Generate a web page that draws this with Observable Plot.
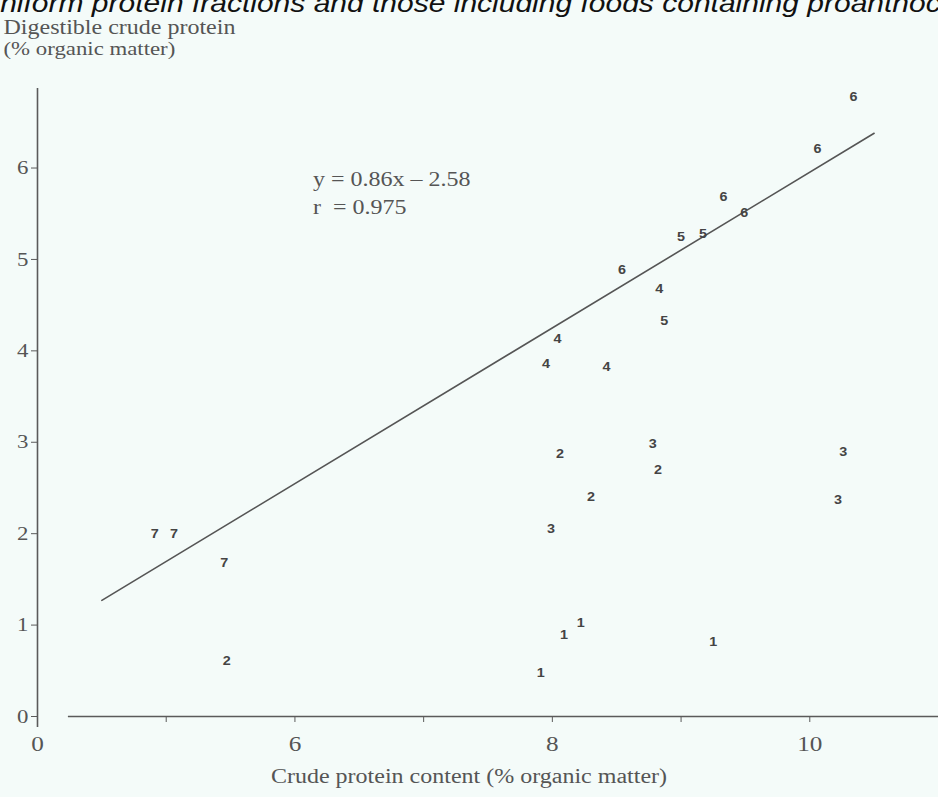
<!DOCTYPE html>
<html>
<head>
<meta charset="utf-8">
<script src="https://cdn.jsdelivr.net/npm/d3@7"></script>
<script src="https://cdn.jsdelivr.net/npm/@observablehq/plot@0.6"></script>
<style>
  html, body { margin: 0; padding: 0; background: #f4fbf9; overflow: hidden; }
  #chart svg { display: block; }
</style>
</head>
<body>
<div id="chart"></div>
<script>
// Data: x = crude protein content, y = digestible crude protein, label = group number
const groupLabels = ["7","7","7","2","4","4","4","5","2","3","2","2","3","1","1","1","1","3","3","6","6","6","6","5","5","6","4"];
const crudeProtein = [4.91,5.06,5.45,5.47,8.04,7.95,8.42,8.87,8.06,8.78,8.82,8.30,7.99,8.09,8.22,7.91,9.25,10.26,10.22,10.34,10.06,9.33,9.49,9.00,9.17,8.54,8.83];
const digestibleProtein = [1.99,1.99,1.68,0.61,4.13,3.85,3.82,4.32,2.87,2.98,2.69,2.40,2.05,0.89,1.02,0.47,0.81,2.89,2.37,6.77,6.21,5.68,5.51,5.24,5.28,4.88,4.68];

// Regression line end points as drawn
const lineX = [4.5, 10.5];
const lineY = [1.27, 6.38];

const yTicks = [0, 1, 2, 3, 4, 5, 6];
const xTickMarks = [5, 6, 7, 8, 9, 10, 11];
const xTickLabels = [4, 6, 8, 10];
const xTickText = ["0", "6", "8", "10"];

const titleText = "uniform protein fractions and those including foods containing proanthocyanidins";
const yTitle1 = "Digestible crude protein";
const yTitle2 = "(% organic matter)";
const xTitle = "Crude protein content (% organic matter)";
const equationLine1 = "y = 0.86x \u2013 2.58";
const equationLine2 = "r  = 0.975";

const points = groupLabels.map((g, i) => ({x: crudeProtein[i], y: digestibleProtein[i], g}));
const regLine = lineX.map((x, i) => ({x, y: lineY[i]}));

const ink = "#555";
const serif = "'Liberation Serif', 'DejaVu Serif', serif";
const sans = "'Liberation Sans', Arial, sans-serif";

const chart = Plot.plot({
  width: 938,
  height: 797,
  marginLeft: 37,
  marginRight: 0,
  marginTop: 88,
  marginBottom: 81,
  style: {background: "#f4fbf9", color: ink, fontFamily: serif, overflow: "visible"},
  x: {domain: [4, 11], label: null},
  y: {domain: [0, 6.87], label: null},
  marks: [
    // axis lines
    Plot.ruleX([4], {y1: -0.12, y2: 6.87, stroke: "#5a5a5a", strokeWidth: 1.6}),
    Plot.ruleY([0], {x1: 4.24, x2: 11, stroke: "#5a5a5a", strokeWidth: 1.6}),
    Plot.axisY({ticks: yTicks, tickSize: 6, tickPadding: 3, fontSize: 19, stroke: "#5a5a5a", fill: ink,
      tickFormat: d => String(d)}),
    Plot.axisX({ticks: xTickMarks, tickSize: 6, tickFormat: () => "", stroke: "#5a5a5a"}),
    Plot.axisX({ticks: xTickLabels, tickSize: 0, tickPadding: 20, fontSize: 21, fill: ink,
      tickFormat: d => xTickText[xTickLabels.indexOf(d)]}),
    // regression line
    Plot.line(regLine, {x: "x", y: "y", stroke: "#555", strokeWidth: 1.6}),
    // point labels
    Plot.text(points, {x: "x", y: "y", text: "g", fontSize: 12, fontWeight: "bold",
      fontFamily: sans, fill: "#444"}),
    // equation
    Plot.text([0], {x: 6.14, y: 5.87, text: () => equationLine1, textAnchor: "start", fontSize: 20, fill: ink}),
    Plot.text([0], {x: 6.14, y: 5.57, text: () => equationLine2, textAnchor: "start", fontSize: 20, fill: ink}),
    // titles
    Plot.text([0], {frameAnchor: "top-left", lineAnchor: "middle", dx: -34, dy: -61, text: () => yTitle1,
      textAnchor: "start", fontSize: 20, fill: ink}),
    Plot.text([0], {frameAnchor: "top-left", lineAnchor: "middle", dx: -34, dy: -40, text: () => yTitle2,
      textAnchor: "start", fontSize: 19, fill: ink}),
    Plot.text([0], {frameAnchor: "bottom", dx: -19, dy: 66, text: () => xTitle, fontSize: 20, fill: ink}),
    Plot.text([0], {frameAnchor: "top-left", dx: -54, dy: -94, text: () => titleText, textAnchor: "start",
      fontSize: 25, fontStyle: "italic", fontFamily: sans, fill: "#111"})
  ]
});
document.getElementById("chart").appendChild(chart);

// The scanned figure is stretched horizontally; mimic that on the text glyphs
const stretch = 1.2;
chart.querySelectorAll("text").forEach(t => {
  if (!t.textContent) return;
  const len = t.getComputedTextLength();
  if (len > 0) {
    t.setAttribute("textLength", (len * stretch).toFixed(1));
    t.setAttribute("lengthAdjust", "spacingAndGlyphs");
  }
});
</script>
</body>
</html>
